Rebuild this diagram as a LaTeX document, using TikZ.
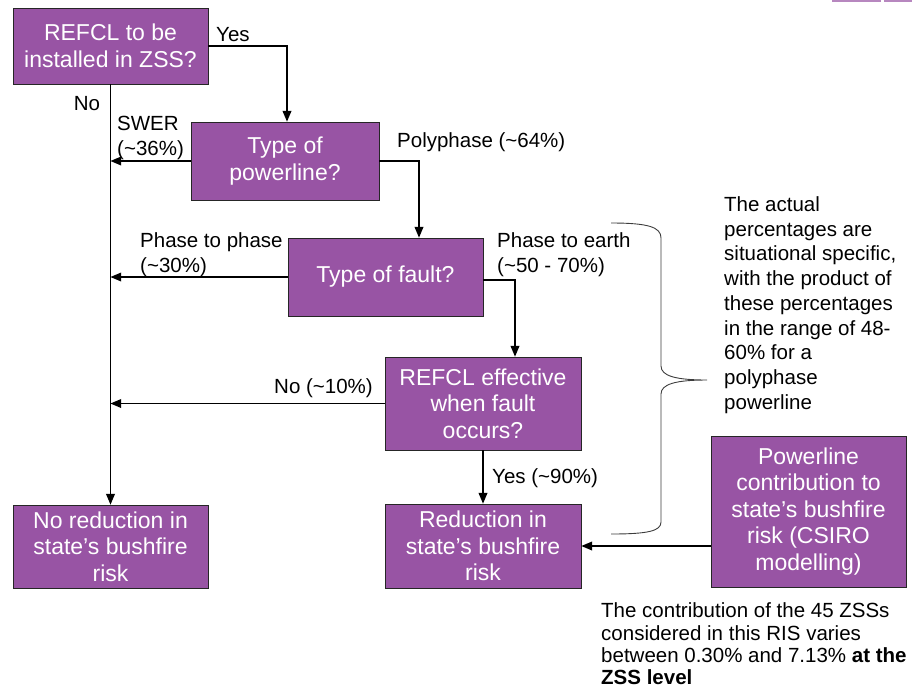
\documentclass[tikz,border=0pt]{standalone}
\usepackage{fontspec}
\setmainfont{Liberation Sans}
\usetikzlibrary{arrows}
\definecolor{boxpurple}{RGB}{152,84,164}
\definecolor{bracegray}{RGB}{60,60,60}
\tikzset{
  decision/.style={draw=black!85, line width=0.8pt, fill=boxpurple, text=white, align=center, inner sep=2pt, font=\fontsize{23}{26.5}\selectfont},
  flowlabel/.style={inner sep=0pt, align=left, font=\fontsize{20.5}{24.7}\selectfont},
  flow/.style={->, line width=1.5pt}
}
\begin{document}
\begin{tikzpicture}[line join=miter,>=triangle 45,x=1pt,y=-1pt]
\useasboundingbox (0,0) rectangle (912,697);
% boxes
\node[decision, minimum width=195pt, minimum height=76pt] (refcl) at (110.5,46) {REFCL to be\\installed in ZSS?};
\node[decision, minimum width=188pt, minimum height=78pt] (linetype) at (285,161) {Type of\\powerline?};
\node[decision, minimum width=195pt, minimum height=78pt] (faulttype) at (385.5,277) {Type of fault?};
\node[decision, minimum width=196pt, minimum height=93pt] (effective) at (483,403.5) {REFCL effective\\when fault\\occurs?};
\node[decision, minimum width=196pt, minimum height=84pt] (reduction) at (483,546) {Reduction in\\state’s bushfire\\risk};
\node[decision, minimum width=195pt, minimum height=83pt] (noreduction) at (110.5,546.5) {No reduction in\\state’s bushfire\\risk};
\node[decision, minimum width=195pt, minimum height=151pt] (csiro) at (808.5,511.5) {Powerline\\contribution to\\state’s bushfire\\risk (CSIRO\\modelling)};
% connectors
\draw[flow] (refcl.east) -| ([xshift=2pt]linetype.north);
\draw[flow] (refcl.south) -- (noreduction.north);
\draw[flow] (linetype.west) -- (linetype.west -| refcl.south);
\draw[flow] (linetype.east) -| ([xshift=33.5pt]faulttype.north);
\draw[flow] (faulttype.west) -- (faulttype.west -| refcl.south);
\draw[flow] ([yshift=-3pt]faulttype.east) -| ([xshift=32pt]effective.north);
\draw[flow] (effective.west) -- (effective.west -| refcl.south);
\draw[flow] (effective.south) -- (reduction.north);
\draw[flow] (reduction.east -| csiro.west) -- (reduction.east);
% labels
\node[flowlabel, anchor=west] (yeslbl) at (216,35) {Yes};
\node[flowlabel] (nolbl) at (87,104) {No};
\node[flowlabel, anchor=west] (swerlbl) at (117,138) {SWER\\(\textasciitilde36\%)};
\node[flowlabel, anchor=west] (polylbl) at (397,142) {Polyphase (\textasciitilde64\%)};
\node[flowlabel, anchor=west] (p2plbl) at (140,255) {Phase to phase\\(\textasciitilde30\%)};
\node[flowlabel, anchor=west] (p2elbl) at (497,255) {Phase to earth\\(\textasciitilde50 - 70\%)};
\node[flowlabel, anchor=east] (ineflbl) at (373,388) {No (\textasciitilde10\%)};
\node[flowlabel, anchor=west] (efflbl) at (492,478) {Yes (\textasciitilde90\%)};
% notes
\node[flowlabel, anchor=west] (pctnote) at (724,305) {The actual\\percentages are\\situational specific,\\with the product of\\these percentages\\in the range of 48-\\60\% for a\\polyphase\\powerline};
\node[flowlabel, anchor=west, font=\fontsize{20.5}{22.3}\selectfont] (zssnote) at (601,644) {The contribution of the 45 ZSSs\\considered in this RIS varies\\between 0.30\% and 7.13\% \textbf{at the}\\\textbf{ZSS level}};
% brace
\draw[bracegray, line width=0.9pt] (611,223) .. controls (648,223) and (661,227) .. (661,238) -- (661,366) .. controls (661,376) and (676,380) .. (707,380) .. controls (676,380) and (661,384) .. (661,394) -- (661,522) .. controls (661,531) and (648,534) .. (611,534);
% cut-off boxes at the top edge
\fill[boxpurple!70] (832,0) rectangle (881,1.5);
\fill[boxpurple!70] (884,0) rectangle (912,1.5);
\end{tikzpicture}
\end{document}
